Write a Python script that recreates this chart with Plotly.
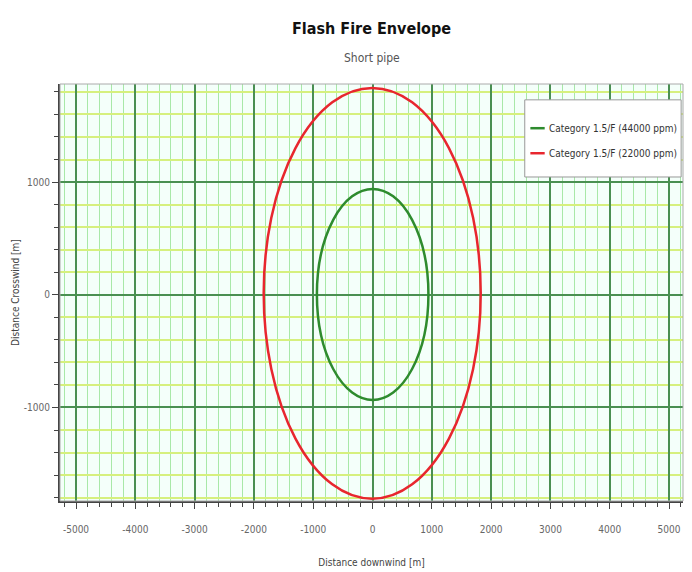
import plotly.graph_objects as go

# envelope extents [m]
categories = ["Category 1.5/F (44000 ppm)", "Category 1.5/F (22000 ppm)"]
x_min = [-938, -1835]
x_max = [943, 1825]
y_min = [-933, -1810]
y_max = [939, 1835]
colors = ["#2e8b2e", "#e8262e"]

x_ticks = [-5000, -4000, -3000, -2000, -1000, 0, 1000, 2000, 3000, 4000, 5000]
x_labels = ["-5000", "-4000", "-3000", "-2000", "-1000", "0", "1000", "2000", "3000", "4000", "5000"]
y_ticks = [-1000, 0, 1000]
y_labels = ["-1000", "0", "1000"]

font = "DejaVu Sans Condensed, Liberation Sans Narrow, sans-serif"

fig = go.Figure()
# empty trace so the axes are drawn
fig.add_trace(go.Scatter(x=[None], y=[None], mode="lines", showlegend=False))
for i, name in enumerate(categories):
    fig.add_shape(type="circle", xref="x", yref="y",
                  x0=x_min[i], x1=x_max[i], y0=y_min[i], y1=y_max[i],
                  line=dict(color=colors[i], width=2.5), layer="above")

# legend box drawn by hand (plotly's legend icons are too wide)
fig.add_shape(type="rect", xref="paper", yref="paper", x0=0.746, x1=0.997,
              y0=0.777, y1=0.962, fillcolor="white", line=dict(color="#999", width=1),
              layer="above")
legend_y = [0.894, 0.834]
for i, name in enumerate(categories):
    fig.add_shape(type="line", xref="paper", yref="paper", x0=0.755, x1=0.778,
                  y0=legend_y[i], y1=legend_y[i], line=dict(color=colors[i], width=2.5),
                  layer="above")
    fig.add_annotation(text=name, xref="paper", yref="paper", x=0.782, y=legend_y[i],
                       xanchor="left", yanchor="middle", showarrow=False,
                       font=dict(size=10, color="#333"))

fig.add_annotation(text="<b>Flash Fire Envelope</b>", xref="paper", yref="paper",
                   x=0.5, y=1, yshift=56, yanchor="middle", showarrow=False,
                   font=dict(size=16, color="#111"))
fig.add_annotation(text="Short pipe", xref="paper", yref="paper",
                   x=0.5, y=1, yshift=26, yanchor="middle", showarrow=False,
                   font=dict(size=12, color="#555"))

# page body has an 8px margin, so the figure is a bit smaller and shifted
fig.update_layout(
    width=684, height=564,
    margin=dict(l=52, r=9, t=76, b=71, autoexpand=False),
    paper_bgcolor="white", plot_bgcolor="#f4fffa",
    font=dict(family=font, size=10, color="#666"),
    showlegend=False,
)

fig.update_xaxes(
    range=[-5270, 5236], tickvals=x_ticks, ticktext=x_labels, ticks="outside", ticklen=6,
    tickcolor="#444", showline=True, linecolor="#444", linewidth=2,
    showgrid=True, gridcolor="#4a8f52", gridwidth=1.5, zeroline=False,
    automargin=False, ticklabelstandoff=12,
    minor=dict(dtick=200, showgrid=True, gridcolor="#a8e8a8", gridwidth=1,
               ticks="outside", ticklen=4, tickcolor="#444"),
    title=dict(text="Distance downwind [m]", font=dict(size=10, color="#444"), standoff=25),
)
fig.update_yaxes(
    range=[-1830, 1870], tickvals=y_ticks, ticktext=y_labels, ticks="outside", ticklen=6,
    tickcolor="#444", showline=True, linecolor="#444", linewidth=2,
    showgrid=True, gridcolor="#4a8f52", gridwidth=1.5, zeroline=False,
    automargin=False, ticklabelstandoff=0,
    minor=dict(dtick=200, showgrid=True, gridcolor="#d6f07e", gridwidth=2,
               ticks="outside", ticklen=4, tickcolor="#444"),
    title=dict(text="Distance Crosswind [m]", font=dict(size=10, color="#444"), standoff=2),
)

# thin frame on the top and right
fig.add_shape(type="rect", xref="paper", yref="paper", x0=0, x1=1, y0=0, y1=1,
              line=dict(color="#aaa", width=1))

fig.write_html("out.html")
